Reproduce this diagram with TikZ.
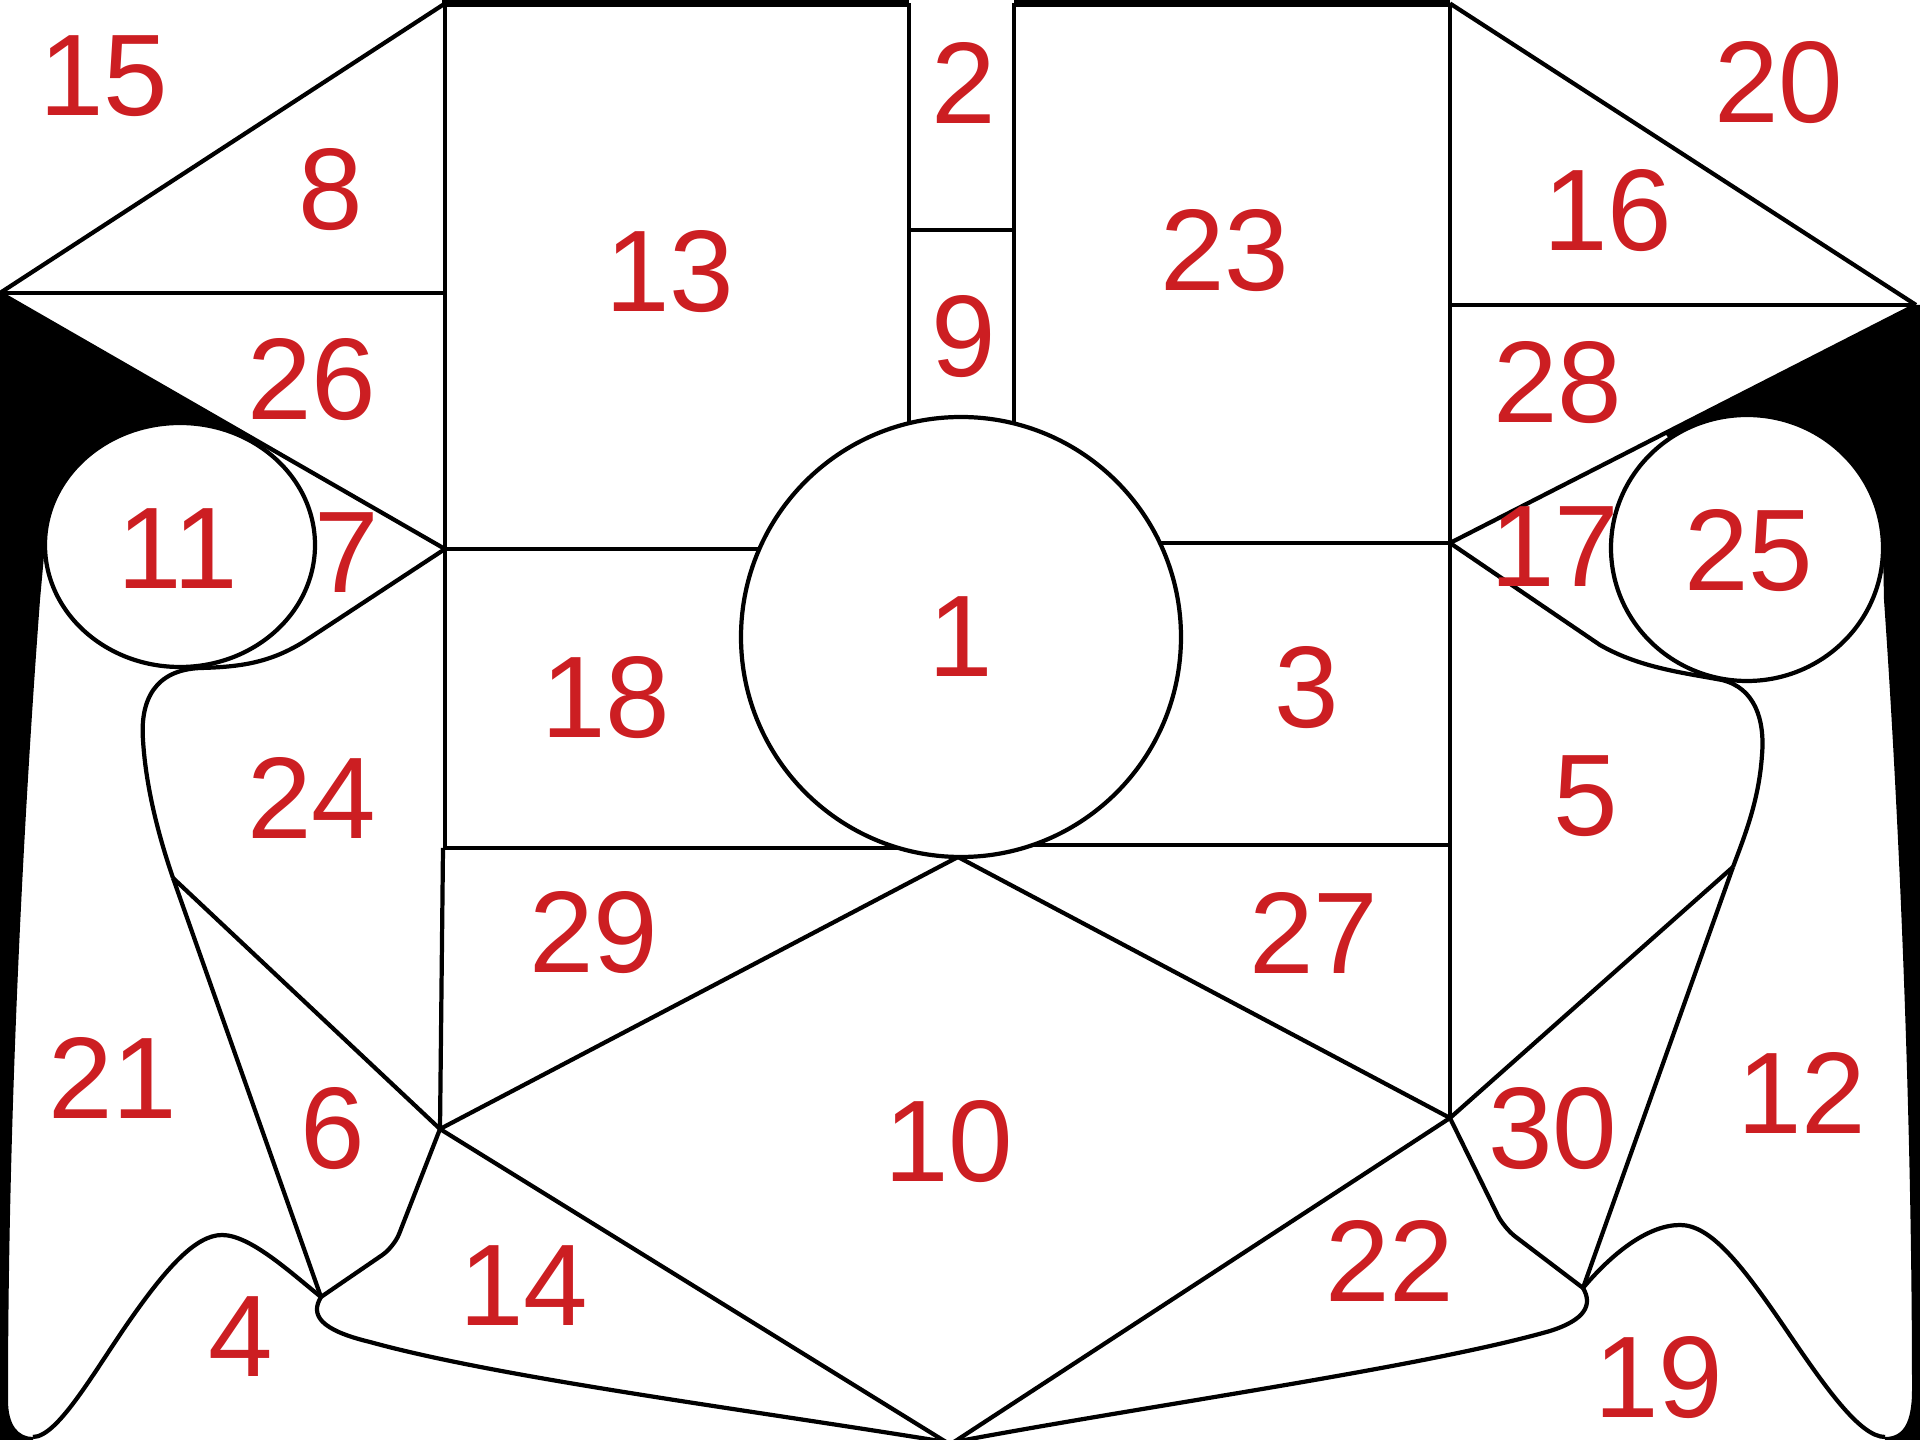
\documentclass[tikz,border=0pt]{standalone}
\usepackage{fontspec}
\newfontfamily\numfont{Liberation Sans}
\usepackage{xcolor}
\definecolor{numred}{RGB}{204,30,34}

\begin{document}
\begin{tikzpicture}[
    x=0.01cm, y=-0.01cm,
    edge/.style={line width=1.2pt, line join=round},
    topbar/.style={line width=2pt},
    lbl/.style={text=numred, inner sep=0pt, font=\numfont\fontsize{33}{36}\selectfont}
]
\useasboundingbox (0,0) rectangle (1920,1440);
\fill[white] (0,0) rectangle (1920,1440);

\coordinate (vL) at (0,293);
\coordinate (vR) at (1916,305);
\coordinate (tl13) at (445,3.5);
\coordinate (tr13) at (909,3.5);
\coordinate (tl23) at (1014,3.5);
\coordinate (tr23) at (1450,3.5);
\coordinate (h8) at (445,293);
\coordinate (h16) at (1450,305);
\coordinate (k7) at (445,549);
\coordinate (k17) at (1450,543);
\coordinate (b18) at (445,848);
\coordinate (b3) at (1450,845);
\coordinate (dL) at (440,1129);
\coordinate (dR) at (1450,1118);
\coordinate (dB) at (958,857);
\coordinate (pL) at (946,1442);
\coordinate (pR) at (954,1442);
\coordinate (sL) at (173,878);
\coordinate (sR) at (1733,867);
\coordinate (jL) at (321,1297);
\coordinate (jR) at (1583,1288);

% black sides
\fill (vL) -- (262,443.7) -- (180,545) -- (45,545) -- (40,600)
    .. controls (25,800) and (8,1100) .. (8,1400)
    .. controls (8,1425) and (18,1437) .. (33,1437) -- (33,1440) -- (0,1440) -- cycle;
\fill (vR) -- (1920,305) -- (1920,1440) -- (1885,1440) -- (1885,1437)
    .. controls (1902,1437) and (1912,1425) .. (1912,1390)
    .. controls (1912,1100) and (1898,800) .. (1884,600)
    -- (1883,548) -- (1747,548) -- (1665,433.2) -- cycle;

\draw[edge, fill=white] (180,545) ellipse [x radius=135, y radius=122];
\draw[edge, fill=white] (1747,548) ellipse [x radius=136, y radius=133];
\draw[edge] (961,637) circle [radius=220];

\draw[topbar] (442,3.5) -- (tr13);
\draw[topbar] (tl23) -- (tr23);

\draw[edge] (vL) -- (tl13);
\draw[edge] (vL) -- (h8);
\draw[edge] (vL) -- (k7);
\draw[edge] (tl13) -- (b18);
\draw[edge] (443,848) -- (dL);
\draw[edge] (tr13) -- (909,423);
\draw[edge] (tl23) -- (1014,424);
\draw[edge] (909,230) -- (1014,230);
\draw[edge] (k7) -- (759,549);
\draw[edge] (1160,543) -- (k17);
\draw[edge] (443,848) -- (900,848);
\draw[edge] (1033,845) -- (b3);
\draw[edge] (tr23) -- (dR);
\draw[edge] (tr23) -- (vR);
\draw[edge] (h16) -- (vR);
\draw[edge] (vR) -- (k17);

\draw[edge] (dB) -- (dL);
\draw[edge] (dB) -- (dR);
\draw[edge] (dL) -- (pL);
\draw[edge] (dR) -- (pR);

\draw[edge] (k7) -- (305,641) .. controls (270,663) and (240,667) .. (200,668)
    .. controls (155,670) and (140,700) .. (143,740) .. controls (146,790) and (160,840) .. (sL);
\draw[edge] (k17) -- (1600,645) .. controls (1640,668) and (1685,673) .. (1722,680)
    .. controls (1755,688) and (1765,720) .. (1762,755) .. controls (1759,800) and (1745,835) .. (sR);
\draw[edge] (sL) -- (dL);
\draw[edge] (sL) -- (jL);
\draw[edge] (sR) -- (dR);
\draw[edge] (sR) -- (jR);
\draw[edge, rounded corners=4pt] (jL) -- (394,1247) -- (dL);
\draw[edge, rounded corners=4pt] (jR) -- (1504,1228) -- (dR);

\draw[edge] (jL) .. controls (290,1272) and (250,1235) .. (222,1235)
    .. controls (195,1235) and (165,1270) .. (130,1320)
    .. controls (95,1370) and (58,1437) .. (33,1437);
\draw[edge] (jL) .. controls (310,1315) and (320,1330) .. (370,1342)
    .. controls (500,1378) and (750,1410) .. (pL);
\draw[edge] (jR) .. controls (1615,1250) and (1650,1225) .. (1680,1225)
    .. controls (1710,1225) and (1740,1262) .. (1785,1328)
    .. controls (1825,1387) and (1860,1437) .. (1885,1437);
\draw[edge] (jR) .. controls (1593,1305) and (1585,1320) .. (1550,1331)
    .. controls (1420,1368) and (1150,1405) .. (pR);

\node[lbl] (n15) at (104,76) {15};
\node[lbl] (n8) at (331,190) {8};
\node[lbl] (n2) at (964,83) {2};
\node[lbl] (n13) at (670,272) {13};
\node[lbl] (n9) at (964,337) {9};
\node[lbl] (n23) at (1225,251) {23};
\node[lbl] (n20) at (1779,83) {20};
\node[lbl] (n16) at (1608,211) {16};
\node[lbl] (n26) at (312,380) {26};
\node[lbl] (n28) at (1558,383) {28};
\node[lbl] (n11) at (178,549) {11};
\node[lbl] (n7) at (347,553) {7};
\node[lbl] (n17) at (1555,547) {17};
\node[lbl] (n25) at (1749,551) {25};
\node[lbl] (n1) at (961,637) {1};
\node[lbl] (n18) at (606,698) {18};
\node[lbl] (n3) at (1307,688) {3};
\node[lbl] (n24) at (312,798) {24};
\node[lbl] (n5) at (1586,796) {5};
\node[lbl] (n29) at (594,933) {29};
\node[lbl] (n27) at (1314,933) {27};
\node[lbl] (n21) at (113,1078) {21};
\node[lbl] (n6) at (333,1129) {6};
\node[lbl] (n10) at (949,1142) {10};
\node[lbl] (n30) at (1553,1129) {30};
\node[lbl] (n12) at (1802,1093) {12};
\node[lbl] (n14) at (524,1286) {14};
\node[lbl] (n22) at (1390,1261) {22};
\node[lbl] (n4) at (241,1337) {4};
\node[lbl] (n19) at (1659,1378) {19};
\end{tikzpicture}
\end{document}
